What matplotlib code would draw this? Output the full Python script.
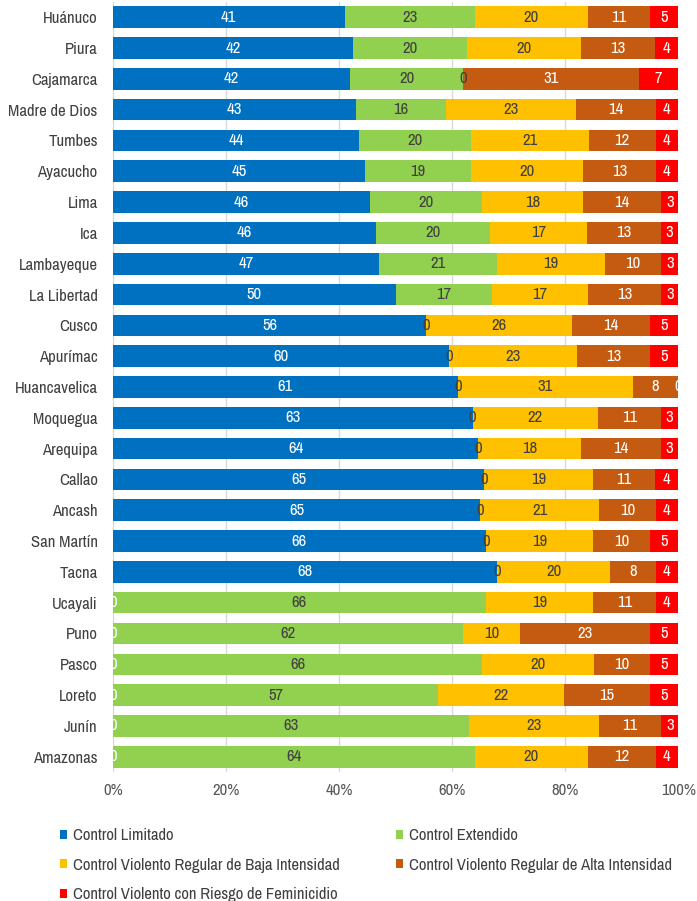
import matplotlib
matplotlib.use('Agg')
import matplotlib.pyplot as plt
from matplotlib import font_manager
import numpy as np

# Regions (top to bottom) and raw percentages per control type
regions = ['Huánuco', 'Piura', 'Cajamarca', 'Madre de Dios', 'Tumbes', 'Ayacucho', 'Lima', 'Ica',
           'Lambayeque', 'La Libertad', 'Cusco', 'Apurímac', 'Huancavelica', 'Moquegua', 'Arequipa',
           'Callao', 'Ancash', 'San Martín', 'Tacna', 'Ucayali', 'Puno', 'Pasco', 'Loreto', 'Junín',
           'Amazonas']
limitado = [41, 42, 42, 43, 44, 45, 46, 46, 47, 50, 56, 60, 61, 63, 64, 65, 65, 66, 68, 0, 0, 0, 0, 0, 0]
extendido = [23, 20, 20, 16, 20, 19, 20, 20, 21, 17, 0, 0, 0, 0, 0, 0, 0, 0, 0, 66, 62, 66, 57, 63, 64]
baja = [20, 20, 0, 23, 21, 20, 18, 17, 19, 17, 26, 23, 31, 22, 18, 19, 21, 19, 20, 19, 10, 20, 22, 23, 20]
alta = [11, 13, 31, 14, 12, 13, 14, 13, 10, 13, 14, 13, 8, 11, 14, 11, 10, 10, 8, 11, 23, 10, 15, 11, 12]
feminicidio = [5, 4, 7, 4, 4, 4, 3, 3, 3, 3, 5, 5, 0, 3, 3, 4, 4, 5, 4, 4, 5, 5, 5, 3, 4]

series_names = ['Control Limitado', 'Control Extendido', 'Control Violento Regular de Baja Intensidad',
                'Control Violento Regular de Alta Intensidad', 'Control Violento con Riesgo de Feminicidio']
colors = ['#0070C0', '#92D050', '#FFC000', '#C55A11', '#FF0000']
label_colors = ['white', '#404040', '#404040', 'white', 'white']

# narrow font, like Arial Narrow in the original
installed = {f.name for f in font_manager.fontManager.ttflist}
family = 'Liberation Sans'
for cand in ['Archivo Narrow', 'Liberation Sans Narrow', 'Roboto Condensed', 'PT Sans Narrow']:
    if cand in installed:
        family = cand
        break
plt.rcParams['font.family'] = [family, 'DejaVu Sans']

data = np.array([limitado, extendido, baja, alta, feminicidio], dtype=float)
shares = data / data.sum(axis=0) * 100

fig = plt.figure(figsize=(6.97, 9.01), dpi=100)
ax = fig.add_axes([0.162, 0.143, 0.811, 0.855])

y = np.arange(len(regions))
left = np.zeros(len(regions))
handles = []
for i, name in enumerate(series_names):
    bars = ax.barh(y, shares[i], left=left, height=0.7, color=colors[i], label=name, zorder=2)
    handles.append(bars)
    for j in range(len(regions)):
        ax.text(left[j] + shares[i][j] / 2, y[j], f'{int(data[i][j])}', ha='center', va='center',
                color=label_colors[i], fontsize=12, zorder=3, clip_on=True)
    left += shares[i]

ax.set_yticks(y)
ax.set_yticklabels(regions, fontsize=12, color='#404040')
ax.set_ylim(len(regions) - 0.5, -0.5)
ax.set_xlim(0, 100)
ax.set_xticks([0, 20, 40, 60, 80, 100])
ax.set_xticklabels(['0%', '20%', '40%', '60%', '80%', '100%'], fontsize=12, color='#595959')
ax.tick_params(length=0)
ax.tick_params(axis='x', pad=8)
ax.tick_params(axis='y', pad=11)
ax.grid(axis='x', color='#D9D9D9', linewidth=1, zorder=0)
for s in ax.spines.values():
    s.set_visible(False)

# row-wise legend order in two columns
order = [0, 2, 4, 1, 3]
leg = fig.legend([handles[k] for k in order], [series_names[k] for k in order],
                 loc='upper left', bbox_to_anchor=(0.064, 0.0975), ncol=2, frameon=False,
                 fontsize=12, handlelength=0.45, handleheight=0.45, handletextpad=0.35,
                 columnspacing=3.35, labelspacing=0.88, labelcolor='#404040')

fig.savefig('out.png', dpi=100)
